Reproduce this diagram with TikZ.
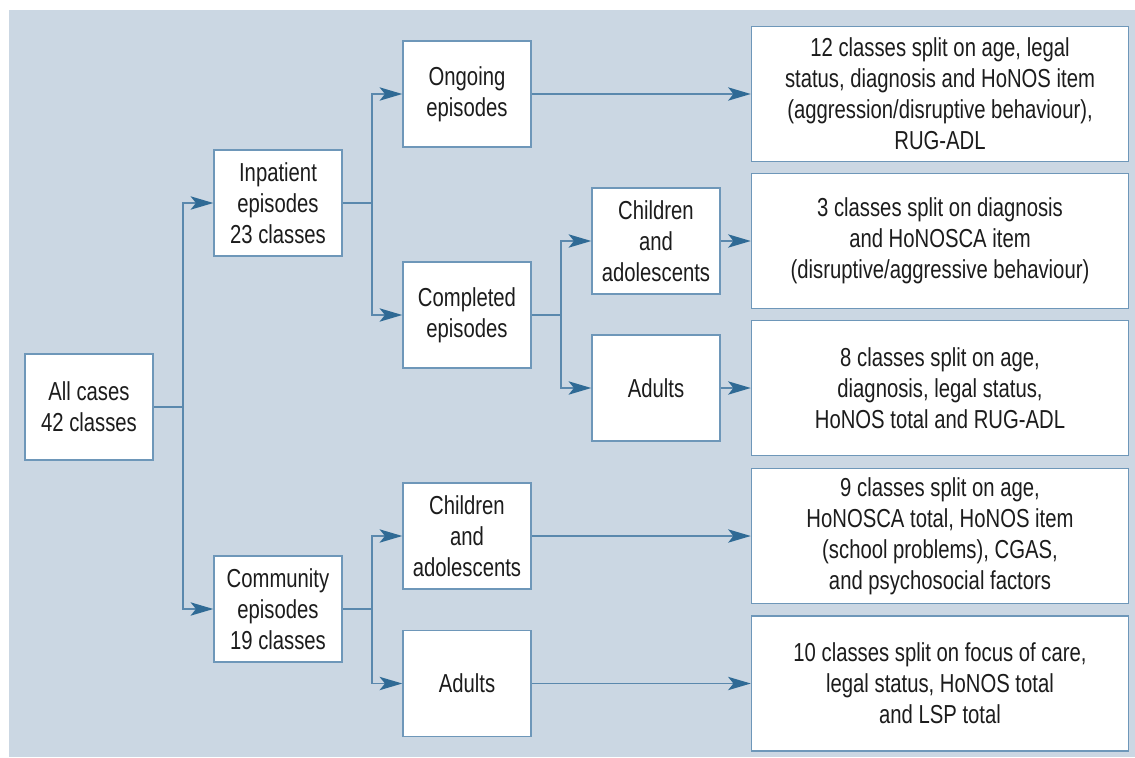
\documentclass[tikz,border=0pt]{standalone}
\usepackage{fontspec}
\setmainfont{Liberation Sans}[FakeStretch=0.78]
\usetikzlibrary{arrows.meta}
\definecolor{bgblue}{HTML}{CBD7E3}
\definecolor{linkblue}{HTML}{5A88AD}
\definecolor{tipblue}{HTML}{2F6A95}
\definecolor{edgeblue}{HTML}{6E97B9}
\definecolor{inktext}{HTML}{1C1C1C}
\tikzset{
  box/.style={draw=edgeblue, line width=1.1pt, fill=white, text=inktext,
    align=center, inner sep=0pt, minimum width=96pt, minimum height=79.5pt,
    font=\fontsize{19.5}{23.25}\selectfont},
  wide/.style={box, minimum width=282.75pt, minimum height=101pt},
  link/.style={draw=linkblue, line width=1.1pt},
  flow/.style={link, -{Stealth[length=17pt, width=10pt, inset=4pt, fill=tipblue, color=tipblue]}}
}
\begin{document}
\begin{tikzpicture}[x=0.75pt, y=-0.75pt]
\useasboundingbox (0,0) rectangle (1135,757);
\fill[bgblue] (9,10) rectangle (1135,757);

% first level
\node[box] (all) at (89,407) {All cases\\42 classes};
\node[box] (inp) at (278,203) {Inpatient\\episodes\\23 classes};
\node[box] (com) at (278,609) {Community\\episodes\\19 classes};

% second level
\node[box] (ong) at (467,94) {Ongoing\\episodes};
\node[box] (cpl) at (467,315) {Completed\\episodes};
\node[box] (cch) at (467,536) {Children\\and\\adolescents};
\node[box] (cad) at (467,683.5) {Adults};

% third level
\node[box] (ich) at (656,241) {Children\\and\\adolescents};
\node[box] (iad) at (656,388) {Adults};

% outcome boxes
\node[wide] (r1) at (940,94) {12 classes split on age, legal\\status, diagnosis and HoNOS item\\(aggression/disruptive behaviour),\\RUG-ADL};
\node[wide] (r2) at (940,241) {3 classes split on diagnosis\\and HoNOSCA item\\(disruptive/aggressive behaviour)};
\node[wide] (r3) at (940,388) {8 classes split on age,\\diagnosis, legal status,\\HoNOS total and RUG-ADL};
\node[wide] (r4) at (940,536) {9 classes split on age,\\HoNOSCA total, HoNOS item\\(school problems), CGAS,\\and psychosocial factors};
\node[wide] (r5) at (940,683.5) {10 classes split on focus of care,\\legal status, HoNOS total\\and LSP total};

% branch points
\coordinate (b0) at (183,407);
\coordinate (b1) at (372,203);
\coordinate (b2) at (561,315);
\coordinate (b3) at (372,609);

\draw[link] (all.east) -- (b0);
\draw[flow] (b0) |- (inp);
\draw[flow] (b0) |- (com);

\draw[link] (inp.east) -- (b1);
\draw[flow] (b1) |- (ong);
\draw[flow] (b1) |- (cpl);

\draw[link] (cpl.east) -- (b2);
\draw[flow] (b2) |- (ich);
\draw[flow] (b2) |- (iad);

\draw[link] (com.east) -- (b3);
\draw[flow] (b3) |- (cch);
\draw[flow] (b3) |- (cad);

\draw[flow] (ong) -- (r1);
\draw[flow] (ich) -- (r2);
\draw[flow] (iad) -- (r3);
\draw[flow] (cch) -- (r4);
\draw[flow] (cad) -- (r5);
\end{tikzpicture}
\end{document}
